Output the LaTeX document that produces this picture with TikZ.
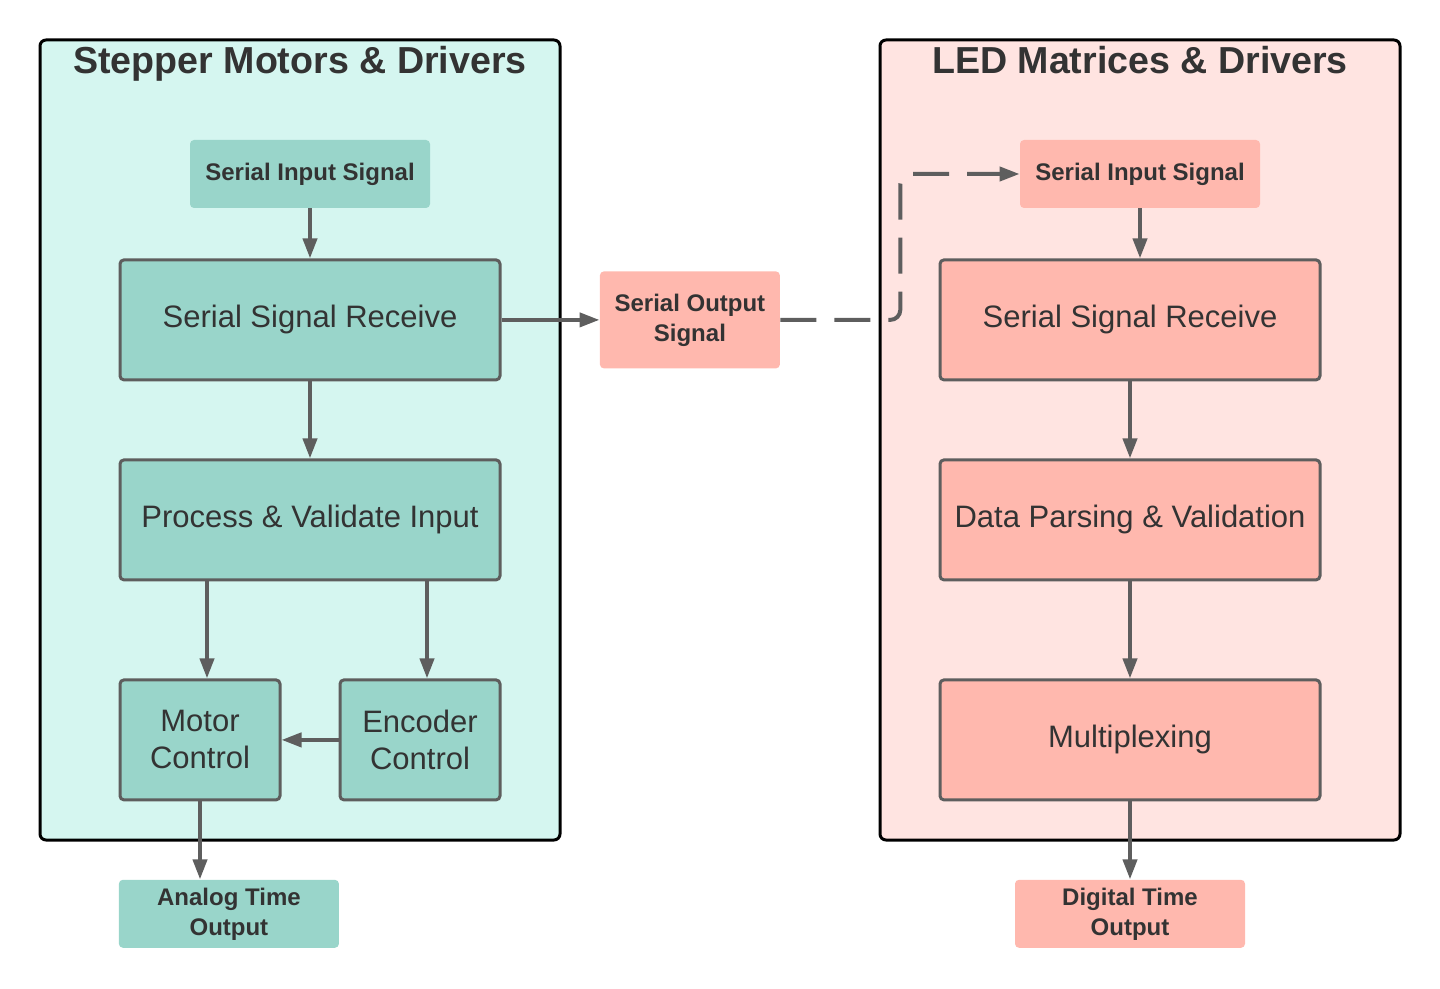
\documentclass[tikz,border=0pt]{standalone}
\usepackage{fontspec}
\setmainfont{Liberation Sans}
\usetikzlibrary{
  arrows.meta,
  positioning
}
\definecolor{tealbox}{HTML}{99D5CA}
\definecolor{tealbg}{HTML}{D5F6F0}
\definecolor{pinkbox}{HTML}{FFB8AE}
\definecolor{pinkbg}{HTML}{FFE4E1}
\definecolor{ink}{HTML}{333333}
\definecolor{wire}{HTML}{5E5E5E}
\tikzset{
  every node/.style={align=center, rounded corners=2pt, text=ink, inner sep=0pt},
  panel/.style={draw=black, line width=1.5pt, rounded corners=3pt, minimum width=260pt, minimum height=400pt},
  ptitle/.style={anchor=base, font=\bfseries\fontsize{18.8}{22}\selectfont},
  block/.style={draw=wire, line width=1.5pt, minimum width=190pt, minimum height=60pt, font=\fontsize{15.5}{18.5}\selectfont},
  tag/.style={minimum height=34pt, font=\bfseries\fontsize{12}{15}\selectfont},
  link/.style={draw=wire, line width=2pt, -{Triangle[length=10pt, width=7pt]}},
}

\begin{document}
\begin{tikzpicture}
      \useasboundingbox (0,0) rectangle (720pt,-494.5pt);
      \node (lpanel) [panel, fill=tealbg] at (150pt,-220pt) {};
      \node (rpanel) [panel, fill=pinkbg] at (570pt,-220pt) {};
      \node (ltitle) [ptitle] at ([yshift=-17.75pt]lpanel.north) {Stepper Motors \& Drivers};
      \node (rtitle) [ptitle] at ([yshift=-17.75pt]rpanel.north) {LED Matrices \& Drivers};

      \node (lsis) [tag, fill=tealbox, minimum width=120pt] at (155pt,-87pt) {Serial Input Signal};
      \node (lrecv) [block, fill=tealbox, below=25pt of lsis] {Serial Signal Receive};
      \node (lproc) [block, fill=tealbox, below=38.5pt of lrecv] {Process \& Validate Input};
      \node (motor) [block, fill=tealbox, minimum width=80pt, below right=48.5pt and 0pt of lproc.south west] {
        Motor\\Control
      };
      \node (encoder) [block, fill=tealbox, minimum width=80pt, below left=48.5pt and 0pt of lproc.south east] {
        Encoder\\Control
      };
      \node (analog) [tag, fill=tealbox, minimum width=110pt, below right=39pt and 0pt of motor.south west] {
        Analog Time\\Output
      };
      \node (sout) [tag, fill=pinkbox, minimum width=90pt, minimum height=48.5pt, right=49pt of lrecv] {
        Serial Output\\Signal
      };

      \node (rsis) [tag, fill=pinkbox, minimum width=120pt] at (570pt,-87pt) {Serial Input Signal};
      \node (rrecv) [block, fill=pinkbox, below=25pt of rsis, xshift=-5pt] {Serial Signal Receive};
      \node (parse) [block, fill=pinkbox, below=38.5pt of rrecv] {Data Parsing \& Validation};
      \node (mux) [block, fill=pinkbox, below=48.5pt of parse] {Multiplexing};
      \node (digital) [tag, fill=pinkbox, minimum width=115pt, below=39pt of mux] {
        Digital Time\\Output
      };

      \draw[link] (lsis) -- (lrecv);
      \draw[link] (lrecv) -- (lproc);
      \draw[link] ([xshift=3.5pt]motor.north |- lproc.south) -- ([xshift=3.5pt]motor.north);
      \draw[link] ([xshift=3.5pt]encoder.north |- lproc.south) -- ([xshift=3.5pt]encoder.north);
      \draw[link] (encoder) -- (motor);
      \draw[link] (motor) -- (motor |- analog.north);
      \draw[link] (lrecv) -- (sout);
      \draw[link, dash pattern=on 18pt off 9pt, rounded corners=5pt] (sout.east) -- ++(60pt,0) |- (rsis.west);
      \draw[link] (rsis) -- (rsis |- rrecv.north);
      \draw[link] (rrecv) -- (parse);
      \draw[link] (parse) -- (mux);
      \draw[link] (mux) -- (digital);
    \end{tikzpicture}
\end{document}
